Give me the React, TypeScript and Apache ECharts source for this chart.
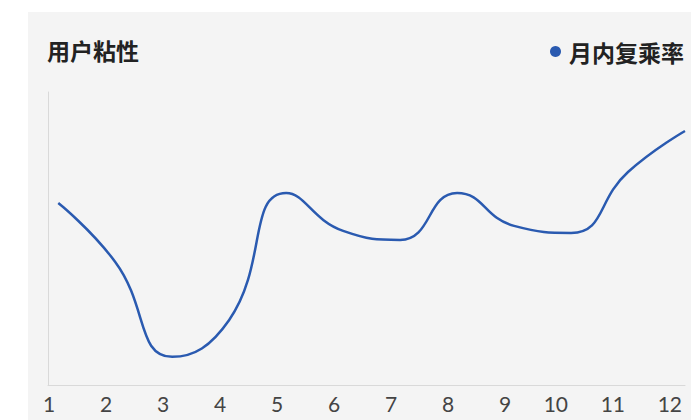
import React, { useEffect, useRef } from "react";
import * as echarts from "echarts";

const months = [1, 2, 3, 4, 5, 6, 7, 8, 9, 10, 11, 12];
const repeatRate = [62.1, 42.0, 9.6, 22.2, 65.5, 52.6, 49.5, 65.5, 54.3, 51.9, 72.7, 86.7];
const titleText = "用户粘性";
const seriesName = "月内复乘率";

export default function App() {
  const ref = useRef<HTMLDivElement>(null);
  useEffect(() => {
    if (!ref.current) return;
    const chart = echarts.init(ref.current, undefined, { renderer: "svg" });
    chart.setOption({
      animation: false,
      backgroundColor: "#f4f4f4",
      title: {
        text: titleText,
        left: 14,
        top: 21,
        textStyle: {
          fontFamily: "Noto Sans CJK SC",
          fontSize: 23,
          fontWeight: "bold",
          color: "#222",
        },
      },
      legend: {
        right: 2,
        top: 23,
        icon: "circle",
        itemWidth: 11,
        itemHeight: 11,
        itemGap: 10,
        textStyle: {
          fontFamily: "Noto Sans CJK SC",
          fontSize: 23,
          fontWeight: "bold",
          color: "#222",
          padding: [0, 0, 0, 3],
        },
        data: [seriesName],
      },
      grid: {
        left: 20,
        right: 6,
        top: 80,
        bottom: 35,
        containLabel: false,
        outerBoundsMode: "none",
      },
      xAxis: {
        type: "value",
        min: 0.82,
        max: 12,
        axisLine: { show: true, lineStyle: { color: "#d9d9d9", width: 1 } },
        axisTick: { show: false },
        splitLine: { show: false },
        axisLabel: {
          customValues: months,
          margin: 8,
          align: "right",
          padding: [0, 3, 0, 0],
          fontFamily: "Lato",
          fontSize: 21,
          color: "#444",
          formatter: (v: number) => String(v),
        },
      },
      yAxis: {
        type: "value",
        min: 0,
        max: 100,
        axisLine: { show: true, lineStyle: { color: "#d9d9d9", width: 1 } },
        axisTick: { show: false },
        axisLabel: { show: false },
        splitLine: { show: false },
      },
      series: [
        {
          name: seriesName,
          type: "line",
          smooth: 0.5,
          showSymbol: false,
          symbol: "circle",
          color: "#2a5ab0",
          lineStyle: { color: "#2a5ab0", width: 2.5 },
          data: months.map((m, i) => [m, repeatRate[i]]),
        },
      ],
    });
    return () => chart.dispose();
  }, []);
  return (
    <div style={{ position: "absolute", left: 0, top: 0, width: 691, height: 420, background: "#fff", overflow: "hidden" }}>
      <div ref={ref} style={{ position: "absolute", left: 28, top: 12, width: 663, height: 408 }} />
    </div>
  );
}
